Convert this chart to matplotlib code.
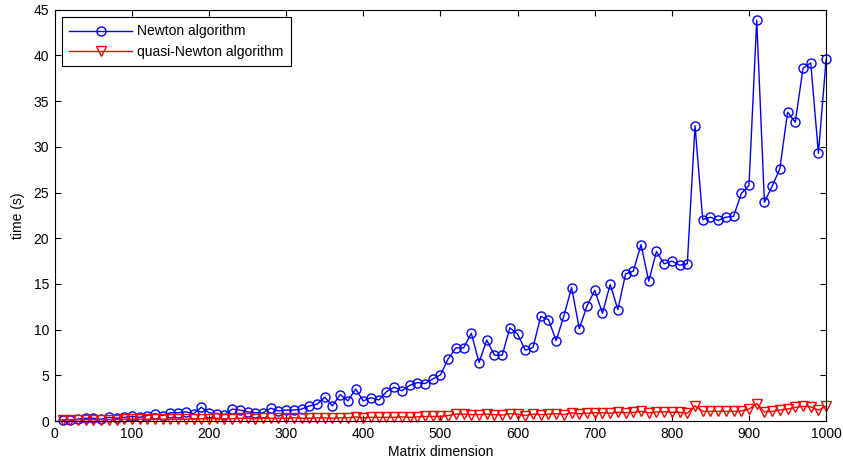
import numpy as np
import matplotlib.pyplot as plt

# matrix dimensions 10..1000
dims = list(range(10, 1001, 10))

# time (s) for Newton algorithm
newton_time = [
    0.1, 0.1, 0.2, 0.3, 0.3, 0.2, 0.4, 0.3, 0.4, 0.5,
    0.4, 0.6, 0.8, 0.6, 0.9, 0.9, 1.0, 0.8, 1.5, 0.9,
    0.8, 0.7, 1.3, 1.2, 1.0, 0.9, 0.9, 1.4, 1.1, 1.2,
    1.2, 1.3, 1.65, 1.85, 2.6, 1.65, 2.9, 2.2, 3.5, 2.2,
    2.55, 2.3, 3.2, 3.7, 3.3, 3.9, 4.2, 4.1, 4.6, 5.05,
    6.8, 8.0, 8.0, 9.6, 6.4, 8.85, 7.2, 7.2, 10.2, 9.5,
    7.75, 8.05, 11.45, 11.1, 8.8, 11.5, 14.6, 10.1, 12.6, 14.3,
    11.8, 14.95, 12.2, 16.1, 16.4, 19.3, 15.3, 18.55, 17.2, 17.5,
    17.05, 17.2, 32.3, 22.05, 22.3, 21.95, 22.3, 22.4, 24.9, 25.8,
    43.85, 23.95, 25.7, 27.6, 33.8, 32.7, 38.6, 39.2, 29.3, 39.6,
]

# time (s) for quasi-Newton algorithm
quasi_time = [
    0.15, 0.15, 0.15, 0.15, 0.15, 0.15, 0.15, 0.15, 0.2, 0.2,
    0.2, 0.2, 0.2, 0.2, 0.2, 0.2, 0.2, 0.25, 0.25, 0.25,
    0.3, 0.25, 0.25, 0.3, 0.3, 0.25, 0.3, 0.3, 0.3, 0.3,
    0.35, 0.3, 0.3, 0.35, 0.35, 0.3, 0.35, 0.35, 0.45, 0.35,
    0.4, 0.4, 0.4, 0.4, 0.45, 0.4, 0.45, 0.5, 0.5, 0.5,
    0.6, 0.75, 0.75, 0.7, 0.7, 0.75, 0.7, 0.65, 0.8, 0.75,
    0.6, 0.75, 0.7, 0.75, 0.8, 0.7, 0.9, 0.8, 0.85, 0.9,
    0.9, 0.85, 0.95, 0.9, 0.95, 1.05, 0.9, 1.0, 1.0, 0.95,
    0.95, 0.85, 1.65, 1.05, 1.05, 1.05, 1.05, 1.05, 1.1, 1.3,
    1.9, 1.0, 1.05, 1.2, 1.3, 1.5, 1.6, 1.55, 1.2, 1.6,
]

plt.rcParams['font.family'] = ['Liberation Sans', 'DejaVu Sans']
plt.rcParams['font.size'] = 10

fig = plt.figure(figsize=(8.43, 4.67), dpi=100)
ax = fig.add_axes([0.065, 0.0985, 0.915, 0.8805])

ax.plot(dims, newton_time, '-o', color=(0, 0, 1), lw=1, ms=6.5,
        mfc='none', mew=1, label='Newton algorithm', clip_on=False)
ax.plot(dims, quasi_time, '-v', color=(1, 0, 0), lw=1, ms=7,
        mfc='none', mew=1, label='quasi-Newton algorithm', clip_on=False)

ax.set_xlim(0, 1000)
ax.set_ylim(0, 45)
ax.set_xticks(range(0, 1001, 100))
ax.set_yticks(range(0, 46, 5))
ax.tick_params(direction='in', length=4, top=True, right=True, pad=4)
ax.set_xlabel('Matrix dimension', labelpad=3)
ax.set_ylabel('time (s)', labelpad=6)

leg = ax.legend(loc='upper left', fancybox=False, edgecolor='black',
                borderaxespad=0.5, handlelength=4.5, framealpha=1,
                borderpad=0.55, labelspacing=0.45, handletextpad=0.4)
leg.get_frame().set_linewidth(0.8)

fig.savefig('out.png', dpi=100)
